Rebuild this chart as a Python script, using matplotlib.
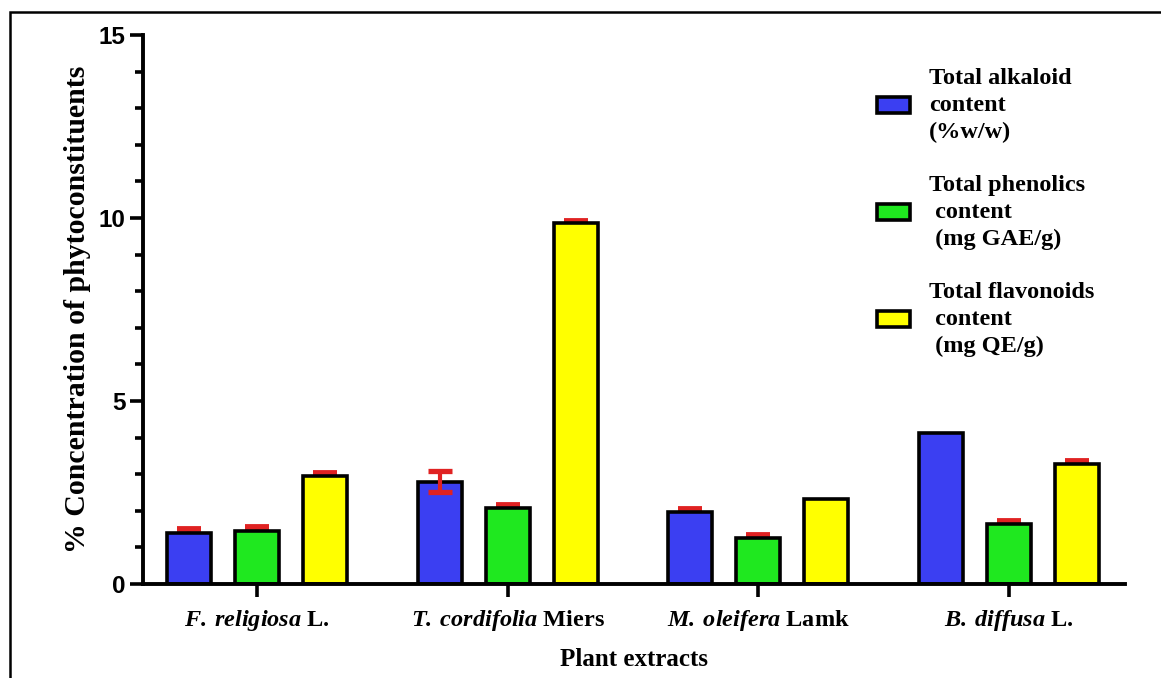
import matplotlib
matplotlib.use("Agg")
import matplotlib.pyplot as plt
import numpy as np
from matplotlib.patches import Rectangle, Patch
from matplotlib.ticker import MultipleLocator

# ---------------- data ----------------
plants = ["F. religiosa", "T. cordifolia", "M. oleifera", "B. diffusa"]
authors = ["L.", "Miers", "Lamk", "L."]
series_labels = ["Total alkaloid\ncontent\n(%w/w)",
                 "Total phenolics\n content\n (mg GAE/g)",
                 "Total flavonoids\n content\n (mg QE/g)"]
alkaloid = [1.40, 2.80, 1.97, 4.13]
alkaloid_err = [0.09, 0.28, 0.09, 0.0]
phenolics = [1.46, 2.07, 1.25, 1.63]
phenolics_err = [0.09, 0.09, 0.10, 0.09]
flavonoids = [2.96, 9.85, 2.31, 3.27]
flavonoids_err = [0.08, 0.08, 0.0, 0.08]
y_ticks = [0, 5, 10, 15]

colors = ["#3b3ff2", "#1fe81f", "#ffff00"]
err_color = "#e02222"

plt.rcParams['mathtext.fontset'] = 'custom'
plt.rcParams['mathtext.rm'] = 'Liberation Serif:bold'
plt.rcParams['mathtext.it'] = 'Liberation Serif:italic:bold'
plt.rcParams['mathtext.bf'] = 'Liberation Serif:bold'
plt.rcParams['mathtext.bfit'] = 'Liberation Serif:italic:bold'

W, H = 1161, 678
fig = plt.figure(figsize=(W / 100, H / 100), dpi=100)
ax = fig.add_axes([143 / W, 1 - 584 / H, (1125 - 143) / W, (584 - 35) / H])

# outer frame (only top/left edges visible in the crop)
fig.patches.append(Rectangle((10 / W, -0.2), 1.5, 1.2 - 12 / H, transform=fig.transFigure,
                             fill=False, edgecolor='black', linewidth=1.8, zorder=0))

x = np.arange(len(plants))
step = 0.271
width = 0.175
all_vals = [alkaloid, phenolics, flavonoids]
all_errs = [alkaloid_err, phenolics_err, flavonoids_err]
handles = []
for i, (vals, errs, col, lab) in enumerate(zip(all_vals, all_errs, colors, series_labels)):
    xs = x + (i - 1) * step
    ax.bar(xs, vals, width=width, color=col, edgecolor='black', linewidth=2.6, zorder=2)
    errs = np.array(errs)
    vals = np.array(vals)
    small = (errs > 0) & (errs < 0.15)
    big = errs >= 0.15
    if small.any():
        ax.errorbar(xs[small], vals[small], yerr=errs[small], fmt='none', ecolor=err_color,
                    elinewidth=3, capsize=8.3, capthick=4.2, zorder=1)
    if big.any():
        ax.errorbar(xs[big], vals[big], yerr=errs[big], fmt='none', ecolor=err_color,
                    elinewidth=3, capsize=8.3, capthick=3.8, zorder=3)
    handles.append(Patch(facecolor=col, edgecolor='black', linewidth=2.6, label=lab))

ax.set_xlim(-0.454, 3.462)
ax.set_ylim(0, 15)
ax.set_yticks(y_ticks)
ax.yaxis.set_minor_locator(MultipleLocator(1))
ax.set_yticklabels([str(t) for t in y_ticks], fontfamily='Liberation Sans',
                   fontweight='bold', fontsize=17.5)

ax.set_xticks(x)
xlabels = [r'$\mathbfit{' + p.replace(' ', r'\:') + r'}$ ' + a for p, a in zip(plants, authors)]
ax.set_xticklabels(xlabels, fontfamily='Liberation Serif', fontweight='bold', fontsize=17.5)

for s in ['top', 'right']:
    ax.spines[s].set_visible(False)
for s in ['left', 'bottom']:
    ax.spines[s].set_linewidth(2.8)
ax.spines['left'].set_zorder(4)
ax.tick_params(axis='both', which='major', length=9.4, width=2.6, pad=3)
ax.tick_params(axis='y', which='minor', length=6, width=2.6)
ax.tick_params(axis='x', pad=8)

ax.set_xlabel("Plant extracts", fontfamily='Liberation Serif', fontweight='bold',
              fontsize=18, labelpad=11)
ax.set_ylabel("% Concentration of phytoconstituents", fontfamily='Liberation Serif',
              fontweight='bold', fontsize=21.5, labelpad=6)

fs = 17.5
leg = fig.legend(handles=handles, loc='upper left', bbox_to_anchor=(877 / W, 1 - 68 / H),
                 frameon=False, prop={'family': 'Liberation Serif', 'weight': 'bold', 'size': fs},
                 handlelength=1.36, handleheight=0.62, handletextpad=0.78, labelspacing=1.3,
                 borderpad=0, borderaxespad=0)
for t in leg.get_texts():
    t.set_linespacing(1.38)

fig.savefig("out.png", dpi=100)
